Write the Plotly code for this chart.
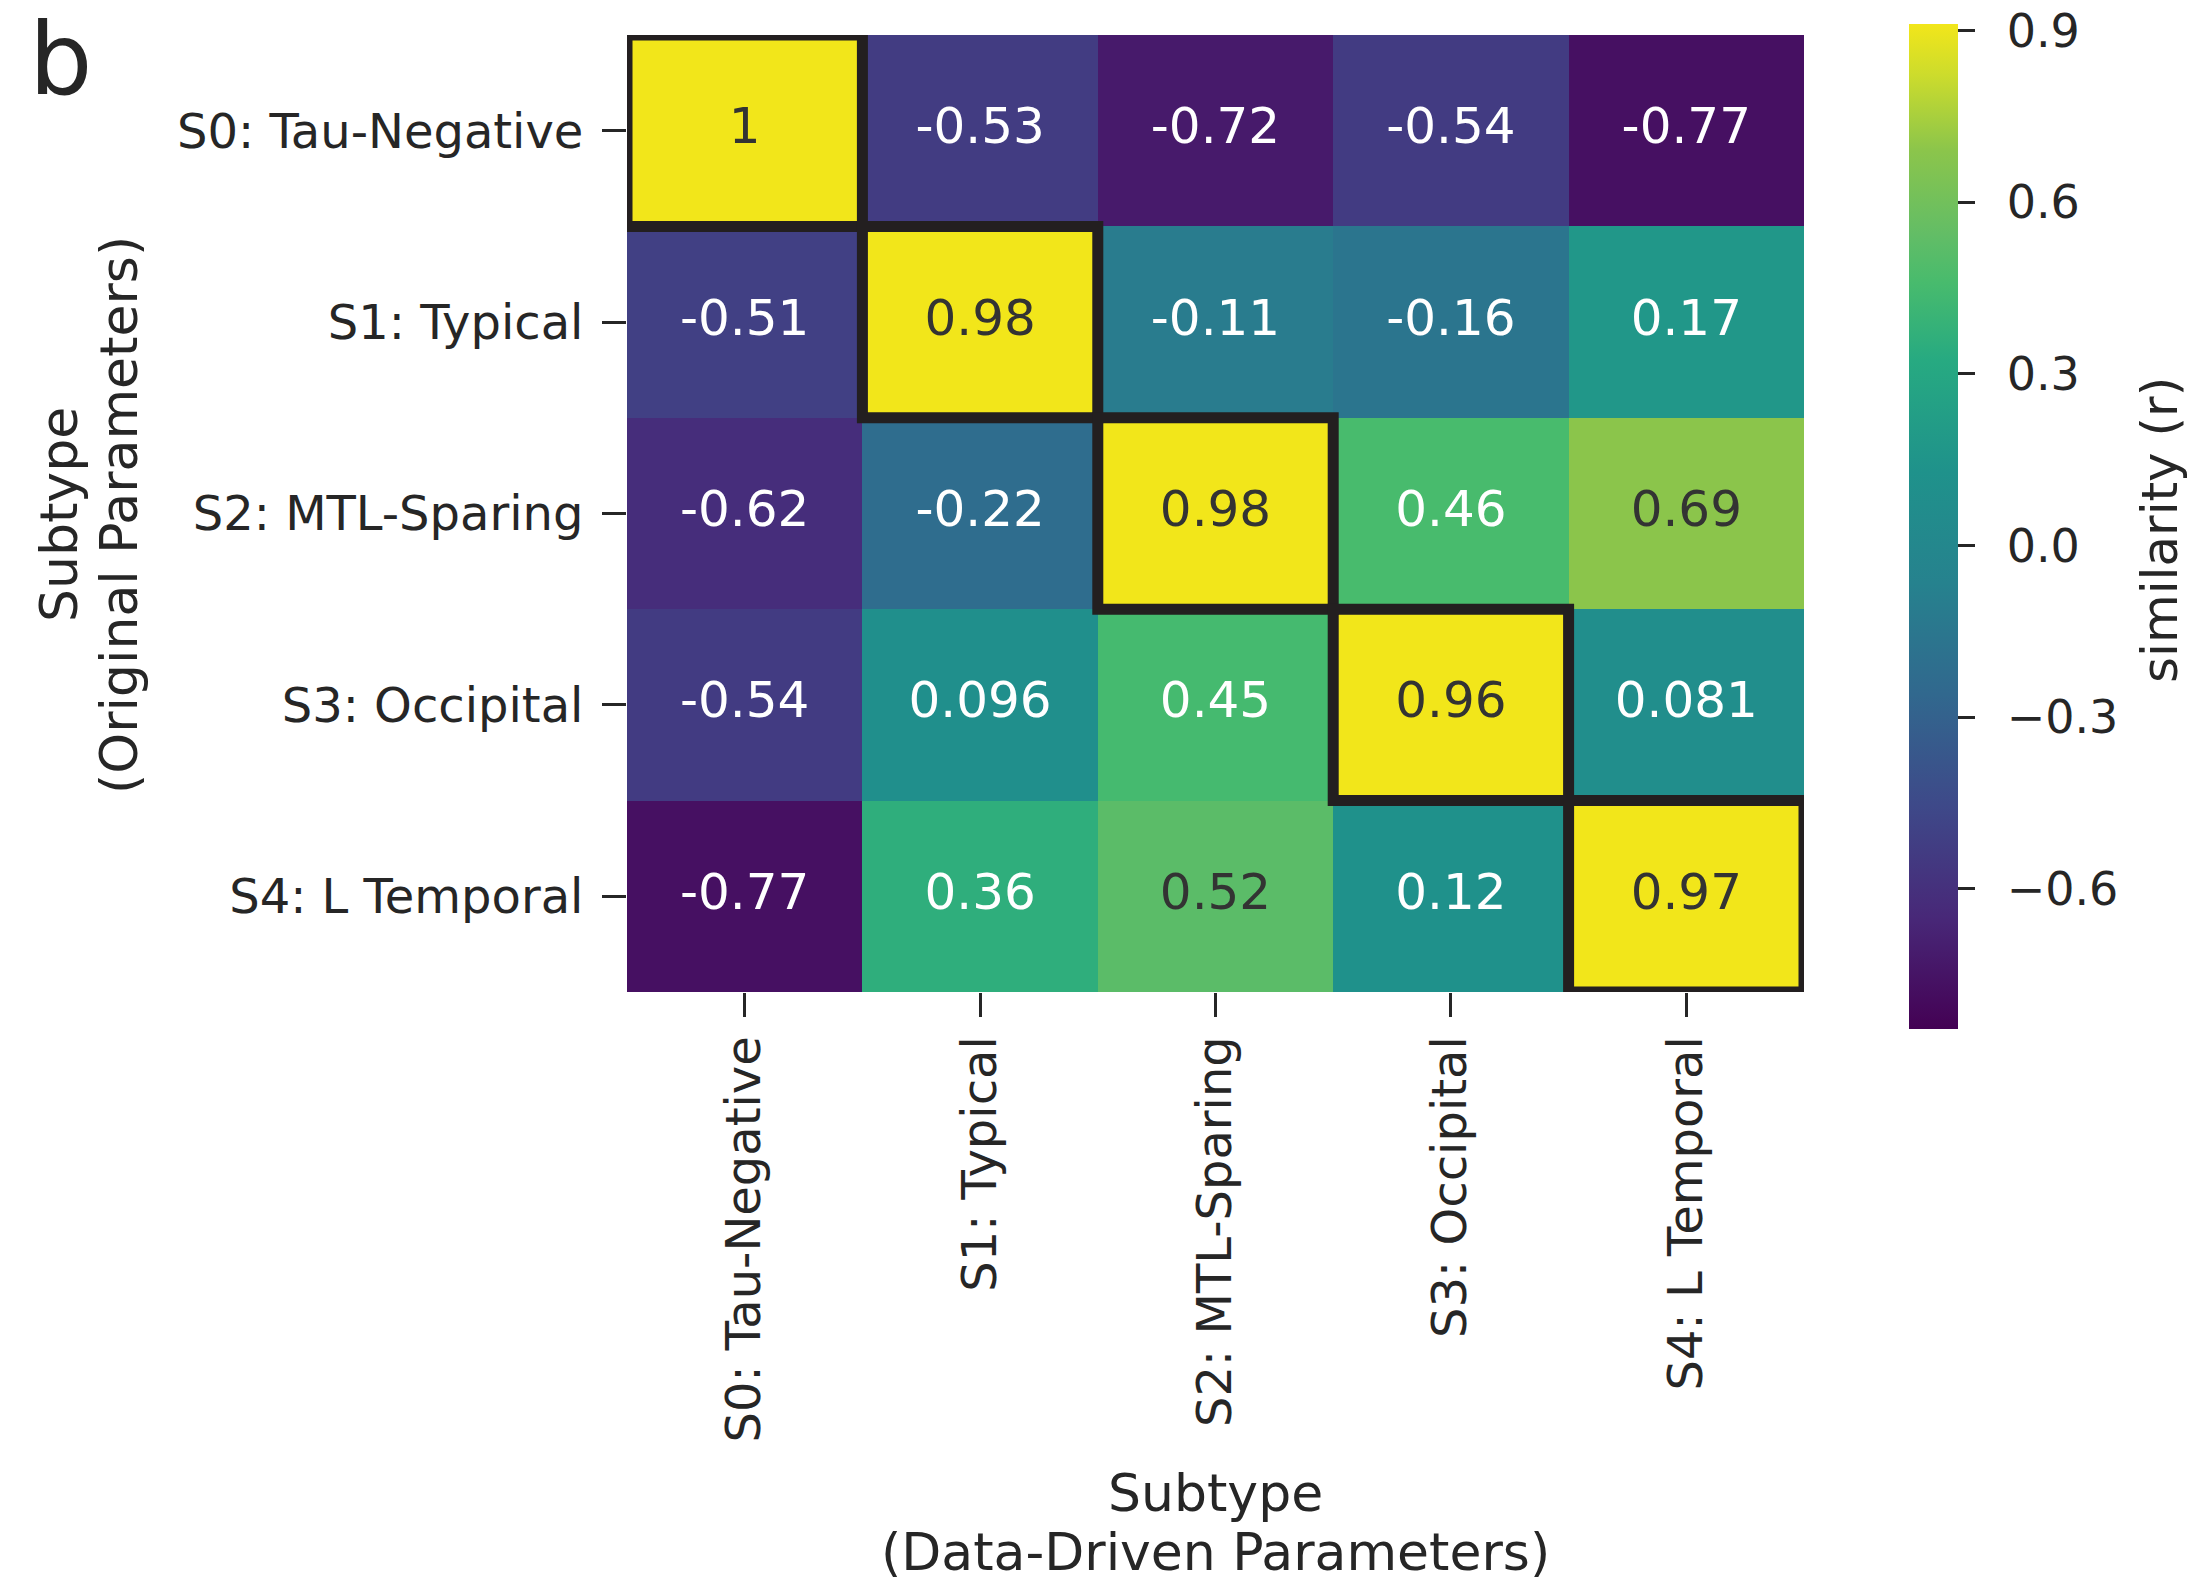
import plotly.graph_objects as go

# Subtype labels (rows: original parameters, columns: data-driven parameters)
row_labels = ["S0: Tau-Negative", "S1: Typical", "S2: MTL-Sparing", "S3: Occipital", "S4: L Temporal"]
col_labels = ["S0: Tau-Negative", "S1: Typical", "S2: MTL-Sparing", "S3: Occipital", "S4: L Temporal"]

# Similarity (r) between subtype templates
similarity = [
    [1.00, -0.53, -0.72, -0.54, -0.77],
    [-0.51, 0.98, -0.11, -0.16, 0.17],
    [-0.62, -0.22, 0.98, 0.46, 0.69],
    [-0.54, 0.096, 0.45, 0.96, 0.081],
    [-0.77, 0.36, 0.52, 0.12, 0.97],
]

cbar_ticks = [-0.6, -0.3, 0.0, 0.3, 0.6, 0.9]
cbar_ticktext = ["\u22120.6", "\u22120.3", "0.0", "0.3", "0.6", "0.9"]
color_min, color_max = -0.845, 0.912

# Viridis-style scale with slightly muted (print-like) greens and yellow
palette = [
    [0.000, "#440154"],
    [0.111, "#482878"],
    [0.222, "#3e4989"],
    [0.333, "#31688e"],
    [0.444, "#26828e"],
    [0.555, "#1f928b"],
    [0.666, "#27aa81"],
    [0.743, "#48bb6d"],
    [0.790, "#62bd66"],
    [0.874, "#8bc54b"],
    [0.950, "#cddc2c"],
    [1.000, "#f2e61a"],
]

W, H = 2188, 1582
PL, PR, PT, PB = 627, 1804, 35, 992  # plot area in page pixels
FONT = "DejaVu Sans"
INK = "#262626"


def px_x(p):
    return (p - PL) / (PR - PL)


def px_y(p):
    return (PB - p) / (PB - PT)


fig = go.Figure()

fig.add_trace(go.Heatmap(
    z=similarity, x=col_labels, y=row_labels,
    colorscale=palette, zmin=color_min, zmax=color_max,
    hoverinfo="skip",
    colorbar=dict(
        thickness=49, thicknessmode="pixels",
        len=1005, lenmode="pixels",
        x=px_x(1909), xanchor="left",
        y=px_y(526.4), yanchor="middle",
        xpad=0, ypad=0, outlinewidth=0,
        tickmode="array", tickvals=cbar_ticks,
        ticktext=["\u2002" + t for t in cbar_ticktext],
        ticks="outside", ticklen=17, tickwidth=2.5, tickcolor=INK,
        tickfont=dict(family=FONT, size=46, color=INK),
    ),
))

# Cell annotations: dark text on bright cells, white elsewhere
xs, ys, texts, colors = [], [], [], []
for i, r in enumerate(row_labels):
    for j, c in enumerate(col_labels):
        v = similarity[i][j]
        xs.append(c)
        ys.append(r)
        texts.append(format(v, ".2g"))
        colors.append("#333333" if v >= 0.5 else "#ffffff")

fig.add_trace(go.Scatter(
    x=xs, y=ys, mode="text", text=texts,
    textfont=dict(family=FONT, size=50, color=colors),
    hoverinfo="skip", showlegend=False,
))

# Outline the diagonal (matching subtypes)
shapes = []
for k in range(len(row_labels)):
    shapes.append(dict(
        type="rect", xref="x", yref="y",
        x0=k - 0.5, x1=k + 0.5, y0=k - 0.5, y1=k + 0.5,
        line=dict(color="#231f20", width=11), layer="above",
    ))

annotations = [
    dict(text="Subtype", x=px_x(1215), y=px_y(1493), xref="paper", yref="paper",
         xanchor="center", yanchor="middle", showarrow=False,
         font=dict(family=FONT, size=52, color=INK)),
    dict(text="(Data-Driven Parameters)", x=px_x(1215), y=px_y(1552), xref="paper", yref="paper",
         xanchor="center", yanchor="middle", showarrow=False,
         font=dict(family=FONT, size=52, color=INK)),
    dict(text="Subtype", x=px_x(59), y=px_y(515), xref="paper", yref="paper",
         xanchor="center", yanchor="middle", showarrow=False, textangle=-90,
         font=dict(family=FONT, size=52, color=INK)),
    dict(text="(Original Parameters)", x=px_x(119), y=px_y(515), xref="paper", yref="paper",
         xanchor="center", yanchor="middle", showarrow=False, textangle=-90,
         font=dict(family=FONT, size=52, color=INK)),
    dict(text="similarity (r)", x=px_x(2160), y=px_y(530), xref="paper", yref="paper",
         xanchor="center", yanchor="middle", showarrow=False, textangle=-90,
         font=dict(family=FONT, size=50, color=INK)),
    # panel letter
    dict(text="b", x=px_x(28), y=px_y(0), xref="paper", yref="paper",
         xanchor="left", yanchor="top", showarrow=False, borderpad=0,
         font=dict(family=FONT, size=100, color=INK)),
]

axis_common = dict(
    showgrid=False, zeroline=False, showline=False,
    ticks="outside", ticklen=24, tickwidth=2.5, tickcolor=INK,
    tickfont=dict(family=FONT, size=48, color=INK),
    automargin=False,
)

fig.update_layout(
    width=W, height=H,
    margin=dict(l=PL, r=W - PR, t=PT, b=H - PB, autoexpand=False),
    paper_bgcolor="white", plot_bgcolor="white",
    xaxis=dict(axis_common, tickangle=-90, range=[-0.5, 4.5], ticklabelstandoff=0),
    yaxis=dict(axis_common, range=[4.5, -0.5], ticklabelstandoff=9),
    shapes=shapes, annotations=annotations,
    showlegend=False,
)

fig.write_html("out.html")
